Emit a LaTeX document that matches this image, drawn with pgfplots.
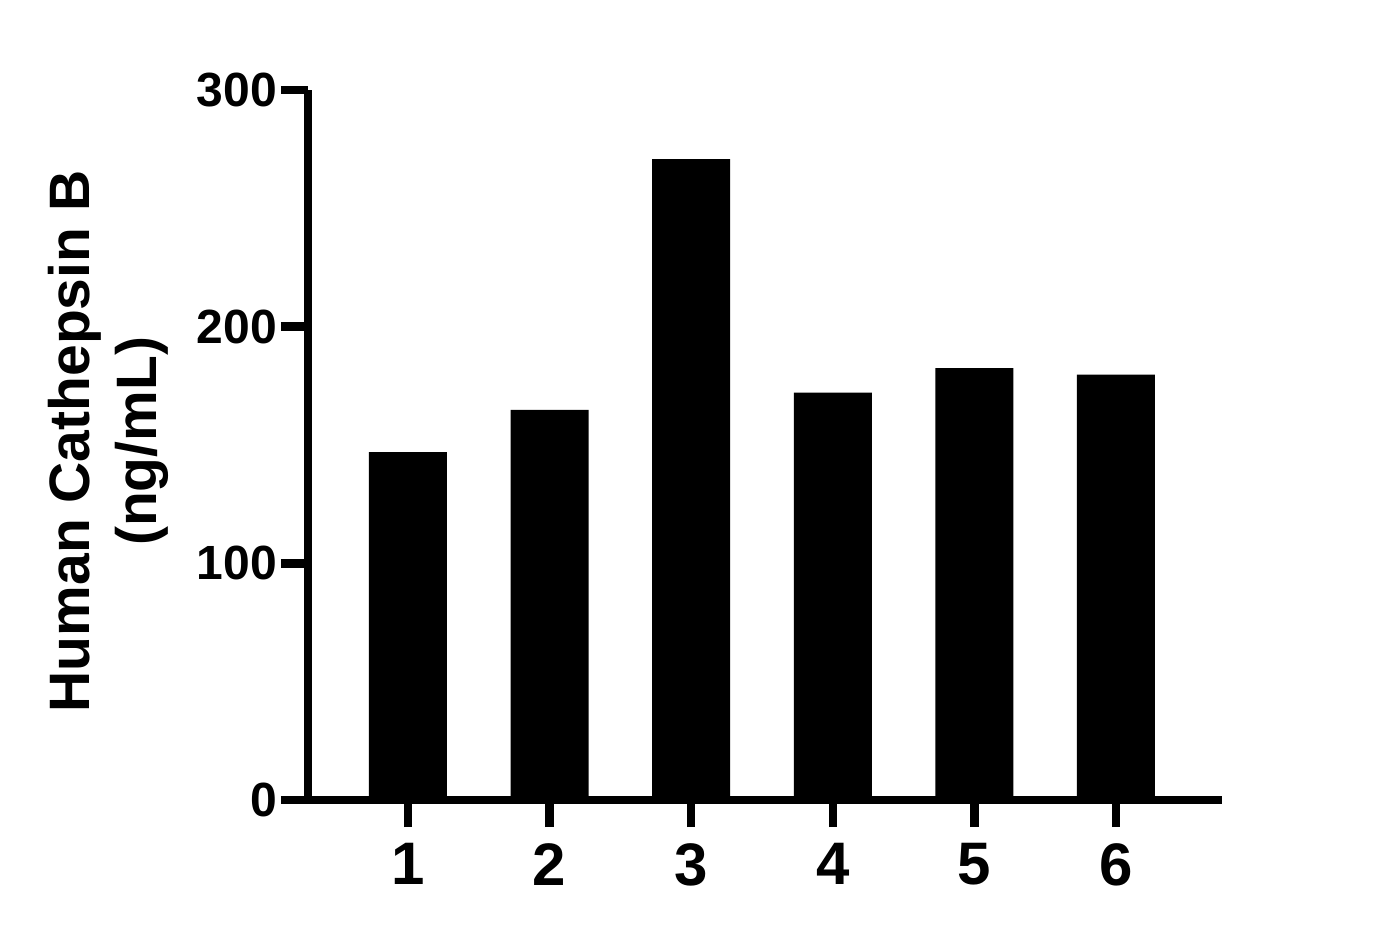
\documentclass[border=0pt]{standalone}
\usepackage{fontspec}
\setmainfont{Liberation Sans}
\usepackage{pgfplots}
\pgfplotsset{compat=1.18}

\begin{document}
\begin{tikzpicture}
  % frame matches the 1399x939 reference, 1pt per pixel
  \useasboundingbox (-308pt,-139pt) rectangle (1091pt,800pt);
  \begin{axis}[
      at={(0,0)}, anchor=south west,
      scale only axis,
      width=914pt, height=710pt,
      axis x line=bottom, axis y line=left,
      axis line style={-, line width=8.5pt},
      xmin=0.294, xmax=6.749,
      ymin=0, ymax=300,
      xtick={1,2,3,4,5,6},
      ytick={0,100,200,300},
      tick align=outside,
      major tick length=27pt,
      every tick/.style={black, line width=8.5pt},
      /pgf/number format/assume math mode=true,
      xticklabel style={font=\fontsize{60}{60}\selectfont\bfseries, inner sep=4pt, yshift=-12pt},
      yticklabel style={font=\fontsize{48}{48}\selectfont\bfseries, inner sep=4pt},
      ylabel={Human Cathepsin B\\(ng/mL)},
      ylabel style={font=\fontsize{57}{67}\selectfont\bfseries, align=center,
        at={(axis description cs:-0.218,0.505)}, anchor=center},
      ybar, bar width=78pt,
      clip=false,
    ]
    \addplot[fill=black, draw=none] coordinates {
      (1,147.0) (2,164.8) (3,270.8) (4,172.1) (5,182.5) (6,179.7)
    };
  \end{axis}
\end{tikzpicture}
\end{document}
